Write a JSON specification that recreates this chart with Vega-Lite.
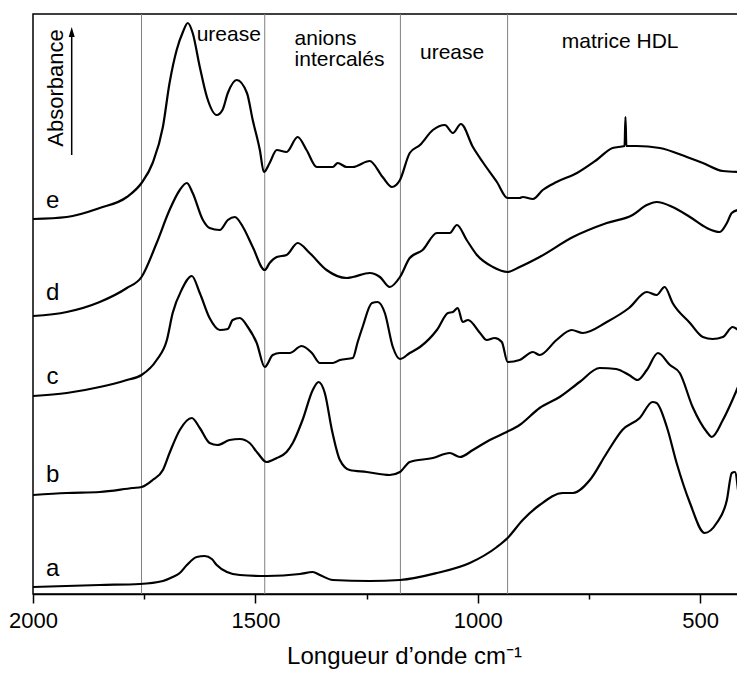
{
  "$schema": "https://vega.github.io/schema/vega-lite/v6.json",
  "width": 705,
  "height": 580,
  "autosize": {"type": "none"},
  "padding": {"left": 33, "top": 14, "right": 0, "bottom": 86},
  "background": "white",
  "config": {"view": {"stroke": "#000", "strokeWidth": 1.5}, "font": "Liberation Sans"},
  "datasets": {
    "vlines": [{"wn": 1756}, {"wn": 1479}, {"wn": 1174}, {"wn": 933}],
    "spectra": [
      {"s":"e","wn":2000,"v":375},{"s":"e","wn":1924,"v":377},{"s":"e","wn":1850,"v":386},{"s":"e","wn":1789,"v":397},{"s":"e","wn":1756,"v":411},{"s":"e","wn":1731,"v":431},{"s":"e","wn":1708,"v":467},{"s":"e","wn":1693,"v":511},{"s":"e","wn":1677,"v":544},{"s":"e","wn":1663,"v":562},{"s":"e","wn":1652,"v":571},{"s":"e","wn":1641,"v":561},{"s":"e","wn":1625,"v":527},{"s":"e","wn":1609,"v":497},{"s":"e","wn":1587,"v":479},{"s":"e","wn":1574,"v":484},{"s":"e","wn":1562,"v":501},{"s":"e","wn":1542,"v":514},{"s":"e","wn":1519,"v":501},{"s":"e","wn":1506,"v":474},{"s":"e","wn":1490,"v":444},{"s":"e","wn":1481,"v":422},{"s":"e","wn":1468,"v":431},{"s":"e","wn":1452,"v":444},{"s":"e","wn":1430,"v":442},{"s":"e","wn":1405,"v":457},{"s":"e","wn":1385,"v":444},{"s":"e","wn":1362,"v":427},{"s":"e","wn":1326,"v":427},{"s":"e","wn":1315,"v":431},{"s":"e","wn":1295,"v":427},{"s":"e","wn":1281,"v":427},{"s":"e","wn":1243,"v":433},{"s":"e","wn":1214,"v":417},{"s":"e","wn":1193,"v":407},{"s":"e","wn":1175,"v":414},{"s":"e","wn":1153,"v":441},{"s":"e","wn":1130,"v":449},{"s":"e","wn":1101,"v":464},{"s":"e","wn":1074,"v":469},{"s":"e","wn":1056,"v":461},{"s":"e","wn":1038,"v":470},{"s":"e","wn":1011,"v":447},{"s":"e","wn":989,"v":432},{"s":"e","wn":957,"v":412},{"s":"e","wn":933,"v":396},{"s":"e","wn":906,"v":396},{"s":"e","wn":899,"v":397},{"s":"e","wn":876,"v":395},{"s":"e","wn":854,"v":404},{"s":"e","wn":823,"v":412},{"s":"e","wn":777,"v":421},{"s":"e","wn":733,"v":434},{"s":"e","wn":697,"v":446},{"s":"e","wn":670,"v":448},{"s":"e","wn":668,"v":477},{"s":"e","wn":666,"v":448},{"s":"e","wn":643,"v":448},{"s":"e","wn":591,"v":446},{"s":"e","wn":530,"v":437},{"s":"e","wn":494,"v":431},{"s":"e","wn":449,"v":423},{"s":"e","wn":415,"v":422},
      {"s":"d","wn":2000,"v":278},{"s":"d","wn":1924,"v":282},{"s":"d","wn":1850,"v":292},{"s":"d","wn":1789,"v":306},{"s":"d","wn":1756,"v":317},{"s":"d","wn":1722,"v":351},{"s":"d","wn":1693,"v":384},{"s":"d","wn":1670,"v":404},{"s":"d","wn":1654,"v":411},{"s":"d","wn":1641,"v":401},{"s":"d","wn":1618,"v":374},{"s":"d","wn":1603,"v":366},{"s":"d","wn":1580,"v":364},{"s":"d","wn":1562,"v":374},{"s":"d","wn":1546,"v":377},{"s":"d","wn":1528,"v":367},{"s":"d","wn":1506,"v":347},{"s":"d","wn":1479,"v":324},{"s":"d","wn":1468,"v":331},{"s":"d","wn":1452,"v":337},{"s":"d","wn":1430,"v":339},{"s":"d","wn":1405,"v":351},{"s":"d","wn":1378,"v":341},{"s":"d","wn":1340,"v":324},{"s":"d","wn":1295,"v":316},{"s":"d","wn":1281,"v":317},{"s":"d","wn":1243,"v":321},{"s":"d","wn":1220,"v":317},{"s":"d","wn":1198,"v":307},{"s":"d","wn":1175,"v":317},{"s":"d","wn":1153,"v":336},{"s":"d","wn":1124,"v":344},{"s":"d","wn":1092,"v":361},{"s":"d","wn":1063,"v":361},{"s":"d","wn":1047,"v":369},{"s":"d","wn":1025,"v":354},{"s":"d","wn":1002,"v":339},{"s":"d","wn":966,"v":327},{"s":"d","wn":933,"v":322},{"s":"d","wn":906,"v":327},{"s":"d","wn":861,"v":337},{"s":"d","wn":786,"v":357},{"s":"d","wn":710,"v":371},{"s":"d","wn":652,"v":379},{"s":"d","wn":620,"v":389},{"s":"d","wn":598,"v":392},{"s":"d","wn":562,"v":387},{"s":"d","wn":523,"v":377},{"s":"d","wn":485,"v":366},{"s":"d","wn":456,"v":362},{"s":"d","wn":440,"v":371},{"s":"d","wn":429,"v":381},{"s":"d","wn":415,"v":384},
      {"s":"c","wn":2000,"v":198},{"s":"c","wn":1924,"v":201},{"s":"c","wn":1850,"v":207},{"s":"c","wn":1789,"v":214},{"s":"c","wn":1756,"v":219},{"s":"c","wn":1722,"v":234},{"s":"c","wn":1699,"v":254},{"s":"c","wn":1686,"v":281},{"s":"c","wn":1666,"v":304},{"s":"c","wn":1643,"v":318},{"s":"c","wn":1625,"v":301},{"s":"c","wn":1603,"v":276},{"s":"c","wn":1580,"v":264},{"s":"c","wn":1562,"v":265},{"s":"c","wn":1551,"v":274},{"s":"c","wn":1535,"v":276},{"s":"c","wn":1517,"v":267},{"s":"c","wn":1497,"v":251},{"s":"c","wn":1479,"v":227},{"s":"c","wn":1461,"v":239},{"s":"c","wn":1445,"v":241},{"s":"c","wn":1423,"v":241},{"s":"c","wn":1396,"v":248},{"s":"c","wn":1373,"v":241},{"s":"c","wn":1355,"v":231},{"s":"c","wn":1326,"v":231},{"s":"c","wn":1310,"v":234},{"s":"c","wn":1281,"v":236},{"s":"c","wn":1270,"v":252},{"s":"c","wn":1259,"v":267},{"s":"c","wn":1238,"v":291},{"s":"c","wn":1225,"v":292},{"s":"c","wn":1209,"v":281},{"s":"c","wn":1191,"v":247},{"s":"c","wn":1175,"v":235},{"s":"c","wn":1153,"v":241},{"s":"c","wn":1130,"v":247},{"s":"c","wn":1092,"v":264},{"s":"c","wn":1067,"v":281},{"s":"c","wn":1056,"v":282},{"s":"c","wn":1045,"v":286},{"s":"c","wn":1034,"v":272},{"s":"c","wn":1022,"v":274},{"s":"c","wn":995,"v":261},{"s":"c","wn":980,"v":254},{"s":"c","wn":962,"v":256},{"s":"c","wn":946,"v":252},{"s":"c","wn":933,"v":232},{"s":"c","wn":906,"v":234},{"s":"c","wn":876,"v":242},{"s":"c","wn":861,"v":239},{"s":"c","wn":823,"v":254},{"s":"c","wn":789,"v":264},{"s":"c","wn":764,"v":261},{"s":"c","wn":710,"v":272},{"s":"c","wn":660,"v":286},{"s":"c","wn":620,"v":302},{"s":"c","wn":598,"v":299},{"s":"c","wn":580,"v":307},{"s":"c","wn":562,"v":291},{"s":"c","wn":523,"v":271},{"s":"c","wn":494,"v":257},{"s":"c","wn":472,"v":255},{"s":"c","wn":449,"v":257},{"s":"c","wn":427,"v":267},{"s":"c","wn":415,"v":264},
      {"s":"b","wn":2000,"v":99},{"s":"b","wn":1924,"v":101},{"s":"b","wn":1850,"v":102},{"s":"b","wn":1776,"v":106},{"s":"b","wn":1756,"v":107},{"s":"b","wn":1731,"v":114},{"s":"b","wn":1708,"v":124},{"s":"b","wn":1693,"v":141},{"s":"b","wn":1670,"v":164},{"s":"b","wn":1643,"v":176},{"s":"b","wn":1625,"v":166},{"s":"b","wn":1603,"v":151},{"s":"b","wn":1585,"v":149},{"s":"b","wn":1558,"v":154},{"s":"b","wn":1535,"v":155},{"s":"b","wn":1513,"v":151},{"s":"b","wn":1495,"v":141},{"s":"b","wn":1475,"v":132},{"s":"b","wn":1452,"v":136},{"s":"b","wn":1430,"v":142},{"s":"b","wn":1416,"v":151},{"s":"b","wn":1394,"v":174},{"s":"b","wn":1371,"v":204},{"s":"b","wn":1358,"v":212},{"s":"b","wn":1344,"v":201},{"s":"b","wn":1328,"v":164},{"s":"b","wn":1310,"v":134},{"s":"b","wn":1288,"v":124},{"s":"b","wn":1250,"v":122},{"s":"b","wn":1198,"v":119},{"s":"b","wn":1175,"v":122},{"s":"b","wn":1153,"v":132},{"s":"b","wn":1101,"v":136},{"s":"b","wn":1063,"v":141},{"s":"b","wn":1040,"v":137},{"s":"b","wn":1011,"v":144},{"s":"b","wn":973,"v":154},{"s":"b","wn":935,"v":162},{"s":"b","wn":906,"v":169},{"s":"b","wn":861,"v":186},{"s":"b","wn":816,"v":197},{"s":"b","wn":771,"v":212},{"s":"b","wn":726,"v":226},{"s":"b","wn":689,"v":225},{"s":"b","wn":660,"v":219},{"s":"b","wn":641,"v":214},{"s":"b","wn":620,"v":224},{"s":"b","wn":595,"v":241},{"s":"b","wn":568,"v":229},{"s":"b","wn":546,"v":221},{"s":"b","wn":517,"v":187},{"s":"b","wn":485,"v":162},{"s":"b","wn":474,"v":157},{"s":"b","wn":449,"v":174},{"s":"b","wn":415,"v":207},
      {"s":"a","wn":2000,"v":7},{"s":"a","wn":1850,"v":9},{"s":"a","wn":1760,"v":10},{"s":"a","wn":1708,"v":13},{"s":"a","wn":1686,"v":17},{"s":"a","wn":1670,"v":21},{"s":"a","wn":1654,"v":29},{"s":"a","wn":1632,"v":37},{"s":"a","wn":1614,"v":38},{"s":"a","wn":1598,"v":35},{"s":"a","wn":1587,"v":29},{"s":"a","wn":1564,"v":22},{"s":"a","wn":1535,"v":19},{"s":"a","wn":1475,"v":18},{"s":"a","wn":1400,"v":20},{"s":"a","wn":1371,"v":22},{"s":"a","wn":1355,"v":19},{"s":"a","wn":1326,"v":14},{"s":"a","wn":1243,"v":13},{"s":"a","wn":1175,"v":14},{"s":"a","wn":1092,"v":21},{"s":"a","wn":1018,"v":31},{"s":"a","wn":957,"v":47},{"s":"a","wn":933,"v":56},{"s":"a","wn":899,"v":74},{"s":"a","wn":861,"v":89},{"s":"a","wn":809,"v":101},{"s":"a","wn":786,"v":101},{"s":"a","wn":748,"v":114},{"s":"a","wn":710,"v":141},{"s":"a","wn":675,"v":164},{"s":"a","wn":636,"v":176},{"s":"a","wn":607,"v":192},{"s":"a","wn":598,"v":191},{"s":"a","wn":575,"v":167},{"s":"a","wn":553,"v":131},{"s":"a","wn":523,"v":91},{"s":"a","wn":490,"v":61},{"s":"a","wn":463,"v":71},{"s":"a","wn":440,"v":94},{"s":"a","wn":429,"v":121},{"s":"a","wn":422,"v":122},{"s":"a","wn":415,"v":104}
    ],
    "curveLabels": [
      {"t":"e","wn":1956,"v":386},{"t":"d","wn":1956,"v":294},{"t":"c","wn":1956,"v":210},{"t":"b","wn":1956,"v":112},{"t":"a","wn":1956,"v":18}
    ],
    "regions": [
      {"t":"urease","wn":1632,"v":553},{"t":"anions","wn":1412,"v":549},{"t":"intercalés","wn":1412,"v":528},{"t":"urease","wn":1130,"v":535},{"t":"matrice HDL","wn":811,"v":546}
    ],
    "yLabel": [{"t":"Absorbance","wn":1933,"v":506}]
  },
  "layer": [
    {
      "data": {"name": "vlines"},
      "mark": {"type": "rule", "color": "#808080", "strokeWidth": 1},
      "encoding": {
        "x": {
          "field": "wn", "type": "quantitative",
          "scale": {"domain": [2000, 415], "nice": false, "zero": false},
          "axis": {
            "values": [2000, 1750, 1500, 1250, 1000, 750, 500],
            "format": "d",
            "labelExpr": "datum.value % 500 === 0 ? datum.label : ''",
            "grid": false,
            "labelFont": "Liberation Sans", "labelFontSize": 22, "labelColor": "#000",
            "labelPadding": 7, "labelFlush": false, "labelOverlap": false,
            "domainColor": "#000", "domainWidth": 1.5,
            "tickColor": "#000", "tickWidth": 1.5,
            "tickSize": {"condition": {"test": "datum.value % 500 === 0", "value": 9}, "value": 5},
            "title": "Longueur d’onde cm⁻¹",
            "titleFont": "Liberation Sans", "titleFontSize": 24, "titleFontWeight": "normal", "titleColor": "#000",
            "titleX": 371, "titleY": 69, "titleBaseline": "alphabetic"
          }
        }
      }
    },
    {
      "data": {"name": "spectra"},
      "mark": {"type": "line", "color": "#000", "strokeWidth": 2.2, "interpolate": "monotone", "strokeJoin": "round"},
      "encoding": {
        "x": {"field": "wn", "type": "quantitative", "scale": {"domain": [2000, 415], "nice": false, "zero": false}},
        "y": {"field": "v", "type": "quantitative", "scale": {"domain": [0, 580], "nice": false, "zero": false}, "axis": null},
        "detail": {"field": "s"}
      }
    },
    {
      "data": {"name": "curveLabels"},
      "mark": {"type": "text", "font": "Liberation Sans", "fontSize": 24, "color": "#000", "align": "center", "baseline": "alphabetic"},
      "encoding": {
        "x": {"field": "wn", "type": "quantitative", "scale": {"domain": [2000, 415], "nice": false, "zero": false}},
        "y": {"field": "v", "type": "quantitative", "scale": {"domain": [0, 580], "nice": false, "zero": false}, "axis": null},
        "text": {"field": "t"}
      }
    },
    {
      "data": {"name": "regions"},
      "mark": {"type": "text", "font": "Liberation Sans", "fontSize": 21, "color": "#000", "align": "left", "baseline": "alphabetic"},
      "encoding": {
        "x": {"field": "wn", "type": "quantitative", "scale": {"domain": [2000, 415], "nice": false, "zero": false}},
        "y": {"field": "v", "type": "quantitative", "scale": {"domain": [0, 580], "nice": false, "zero": false}, "axis": null},
        "text": {"field": "t"}
      }
    },
    {
      "data": {"name": "yLabel"},
      "mark": {"type": "text", "font": "Liberation Sans", "fontSize": 22, "color": "#000", "align": "center", "baseline": "alphabetic", "angle": 270},
      "encoding": {
        "x": {"field": "wn", "type": "quantitative", "scale": {"domain": [2000, 415], "nice": false, "zero": false}},
        "y": {"field": "v", "type": "quantitative", "scale": {"domain": [0, 580], "nice": false, "zero": false}, "axis": null},
        "text": {"field": "t"}
      }
    },
    {
      "data": {"values": [{}]},
      "mark": {"type": "rule", "color": "#000", "strokeWidth": 1.5},
      "encoding": {
        "x": {"datum": 1913, "type": "quantitative", "scale": {"domain": [2000, 415], "nice": false, "zero": false}},
        "y": {"datum": 439, "type": "quantitative", "scale": {"domain": [0, 580], "nice": false, "zero": false}, "axis": null},
        "y2": {"datum": 558}
      }
    },
    {
      "data": {"values": [{}]},
      "mark": {"type": "point", "shape": "M0,-1L0.6,1L-0.6,1Z", "filled": true, "color": "#000", "size": 100, "opacity": 1},
      "encoding": {
        "x": {"datum": 1913, "type": "quantitative", "scale": {"domain": [2000, 415], "nice": false, "zero": false}},
        "y": {"datum": 562, "type": "quantitative", "scale": {"domain": [0, 580], "nice": false, "zero": false}, "axis": null}
      }
    }
  ]
}
